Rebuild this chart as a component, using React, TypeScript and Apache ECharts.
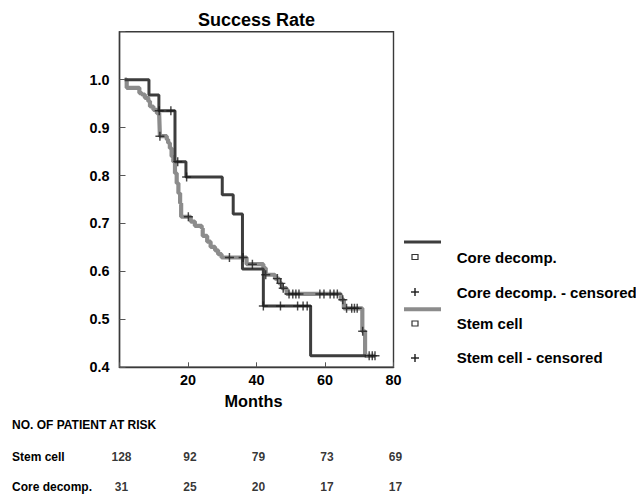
import React, { useEffect, useRef } from "react";
import * as echarts from "echarts";

const FONT = "'Liberation Sans', Arial, sans-serif";

const stemTimes = [1.5, 2.1, 5.8, 6.5, 7.4, 8.4, 8.9, 9.9, 10.9, 11.6, 11.8, 13.8, 14.2, 14.7, 15.2, 15.7, 16.2, 16.7, 17.2, 17.7, 18.0, 20.8, 22.0, 24.0, 24.3, 25.6, 26.6, 27.9, 28.8, 29.8, 37.1, 42.0, 42.7, 45.4, 46.6, 47.4, 48.8, 64.6, 65.5, 70.9, 71.7, 74.6];
const stemValues = [1.0, 0.983, 0.972, 0.969, 0.962, 0.955, 0.944, 0.937, 0.93, 0.925, 0.882, 0.875, 0.868, 0.857, 0.84, 0.829, 0.805, 0.784, 0.763, 0.742, 0.714, 0.704, 0.695, 0.69, 0.674, 0.662, 0.651, 0.644, 0.636, 0.629, 0.615, 0.607, 0.593, 0.585, 0.575, 0.565, 0.553, 0.541, 0.523, 0.475, 0.424, 0.424];

const coreTimes = [1.5, 8.6, 11.5, 16.2, 19.4, 30.0, 33.2, 35.9, 42.0, 55.8, 72.0];
const coreValues = [1.0, 0.968, 0.935, 0.829, 0.797, 0.76, 0.72, 0.605, 0.528, 0.424, 0.424];

const stemCensorTimes = [11.8, 20.1, 32.1, 36.1, 38.8, 42.7, 46.1, 47.1, 47.8, 49.5, 50.6, 51.5, 52.4, 58.5, 59.7, 61.5, 62.6, 63.6, 65.2, 66.3, 67.8, 68.6, 69.4, 71.0, 72.9, 73.8, 74.6];
const stemCensorValues = [0.882, 0.714, 0.629, 0.629, 0.615, 0.593, 0.585, 0.575, 0.565, 0.553, 0.553, 0.553, 0.553, 0.553, 0.553, 0.553, 0.553, 0.553, 0.541, 0.523, 0.523, 0.523, 0.523, 0.475, 0.424, 0.424, 0.424];

const coreCensorTimes = [11.6, 15.0, 17.0, 19.6, 42.0, 47.0, 52.0, 53.6, 54.8];
const coreCensorValues = [0.935, 0.935, 0.829, 0.797, 0.528, 0.528, 0.528, 0.528, 0.528];

const riskMonths = [0, 20, 40, 60, 80];
const riskStem = [128, 92, 79, 73, 69];
const riskCore = [31, 25, 20, 17, 17];
const riskRows = ["Core decomp.", "Stem cell"];

const legendItems = ["Core decomp.", "Core decomp. - censored", "Stem cell", "Stem cell - censored"];

const DARK = "#3d3d3d";
const GRAY = "#8c8c8c";
const CROSS = "path://M4.2,0H5.8V10H4.2Z M0,4.2H10V5.8H0Z";

const zip = (a: number[], b: number[]) => a.map((t, i) => [t, b[i]]);

export default function App() {
  const ref = useRef<HTMLDivElement>(null);
  useEffect(() => {
    if (!ref.current) return;
    const chart = echarts.init(ref.current, undefined, { renderer: "svg" });
    const txt = (x: number, y: number, text: string, size: number, align = "left") => ({
      type: "text",
      x,
      y,
      style: { text, fontSize: size, fontWeight: "bold", fontFamily: FONT, fill: "#000", align, verticalAlign: "middle" },
    });
    const plus = (cx: number, cy: number) => ({
      type: "group",
      children: [
        { type: "line", shape: { x1: cx - 4, y1: cy, x2: cx + 4, y2: cy }, style: { stroke: "#1a1a1a", lineWidth: 1.4 } },
        { type: "line", shape: { x1: cx, y1: cy - 4, x2: cx, y2: cy + 4 }, style: { stroke: "#1a1a1a", lineWidth: 1.4 } },
      ],
    });
    const square = (cx: number, cy: number) => ({
      type: "rect",
      shape: { x: cx - 3, y: cy - 2.5, width: 6, height: 5 },
      style: { fill: "#fff", stroke: "#333", lineWidth: 1.2 },
    });
    const option: any = {
      animation: false,
      title: {
        text: "Success Rate",
        left: 193,
        top: 6,
        textStyle: { fontSize: 18, fontWeight: "bold", fontFamily: FONT, color: "#000" },
      },
      grid: [
        { left: 119.5, right: 242.5, top: 31.7, bottom: 128.7, show: true, borderColor: "#3a3a3a", borderWidth: 1.4, backgroundColor: "transparent" },
        { left: 119.5, right: 242.5, top: 456.7, height: 30.6, show: false },
      ],
      xAxis: [
        {
          type: "value",
          gridIndex: 0,
          min: 0,
          max: 80,
          interval: 20,
          name: "Months",
          nameLocation: "middle",
          nameGap: 26,
          nameTextStyle: { fontSize: 16.3, fontWeight: "bold", fontFamily: FONT, color: "#000", padding: [0, 6, 0, 0] },
          axisLine: { show: true, lineStyle: { color: "#3a3a3a", width: 1.4 } },
          axisTick: { show: true, inside: true, length: 5, lineStyle: { color: "#555" } },
          axisLabel: { fontSize: 14.4, fontWeight: "bold", fontFamily: FONT, color: "#000", margin: 6, formatter: (v: number) => (v === 0 ? "" : String(v)) },
          splitLine: { show: false },
        },
        { type: "value", gridIndex: 1, min: 0, max: 80, show: false },
      ],
      yAxis: [
        {
          type: "value",
          gridIndex: 0,
          min: 0.4,
          max: 1.1,
          interval: 0.1,
          axisLine: { show: true, lineStyle: { color: "#3a3a3a", width: 1.4 } },
          axisTick: { show: true, inside: true, length: 6, lineStyle: { color: "#555" } },
          axisLabel: { fontSize: 14.4, fontWeight: "bold", fontFamily: FONT, color: "#000", margin: 10, formatter: (v: number) => (v > 1.05 ? "" : v.toFixed(1)) },
          splitLine: { show: false },
        },
        {
          type: "category",
          gridIndex: 1,
          data: riskRows,
          boundaryGap: false,
          axisLine: { show: false },
          axisTick: { show: false },
          axisLabel: { align: "left", margin: 107.5, fontSize: 12, fontWeight: "bold", fontFamily: FONT, color: "#000" },
        },
      ],
      series: [
        {
          name: "Stem cell",
          type: "line",
          step: "end",
          xAxisIndex: 0,
          yAxisIndex: 0,
          symbol: "none",
          data: zip(stemTimes, stemValues),
          lineStyle: { color: GRAY, width: 4.2 },
          z: 2,
        },
        {
          name: "Core decomp.",
          type: "line",
          step: "end",
          xAxisIndex: 0,
          yAxisIndex: 0,
          symbol: "none",
          data: zip(coreTimes, coreValues),
          lineStyle: { color: DARK, width: 3 },
          z: 3,
        },
        {
          name: "Stem cell - censored",
          type: "scatter",
          xAxisIndex: 0,
          yAxisIndex: 0,
          symbol: CROSS,
          symbolSize: 9,
          itemStyle: { color: "#1a1a1a" },
          data: zip(stemCensorTimes, stemCensorValues),
          z: 4,
        },
        {
          name: "Core decomp. - censored",
          type: "scatter",
          xAxisIndex: 0,
          yAxisIndex: 0,
          symbol: CROSS,
          symbolSize: 9,
          itemStyle: { color: "#1a1a1a" },
          data: zip(coreCensorTimes, coreCensorValues),
          z: 4,
        },
        {
          name: "At risk",
          type: "scatter",
          xAxisIndex: 1,
          yAxisIndex: 1,
          symbolSize: 0,
          data: [
            ...riskMonths.map((m, i) => [m, riskRows[1], riskStem[i]]),
            ...riskMonths.map((m, i) => [m, riskRows[0], riskCore[i]]),
          ],
          label: {
            show: true,
            position: "inside",
            formatter: (p: any) => String(p.value[2]),
            fontSize: 12,
            fontWeight: "bold",
            fontFamily: FONT,
            color: "#000",
            offset: [2, 0],
          },
        },
      ],
      graphic: [
        { type: "line", shape: { x1: 404, y1: 242, x2: 441, y2: 242 }, style: { stroke: DARK, lineWidth: 3 } },
        square(415, 257),
        txt(456.7, 257, legendItems[0], 15),
        plus(415, 292),
        txt(456.7, 292.7, legendItems[1], 15),
        { type: "line", shape: { x1: 404, y1: 309.3, x2: 441, y2: 309.3 }, style: { stroke: GRAY, lineWidth: 4 } },
        square(415, 323.5),
        txt(456.7, 323.5, legendItems[2], 15),
        plus(415, 358),
        txt(456.7, 357.7, legendItems[3], 15),
        txt(12, 425, "NO. OF PATIENT AT RISK", 12),
      ],
    };
    chart.setOption(option);
    return () => chart.dispose();
  }, []);
  return <div ref={ref} style={{ position: "fixed", left: 0, top: 0, width: 636, height: 496, background: "#fff" }} />;
}
